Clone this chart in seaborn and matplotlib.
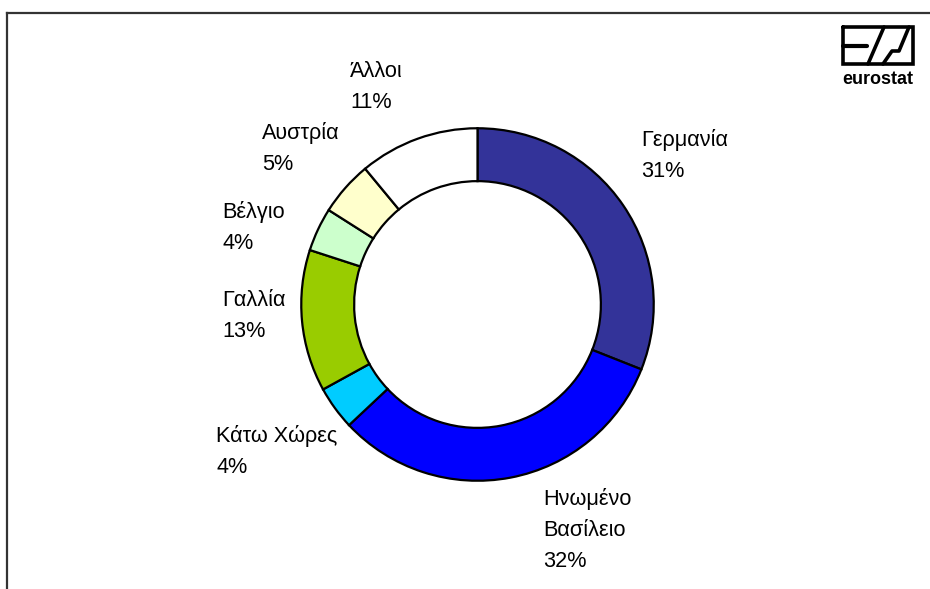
#!/usr/bin/env python3

import matplotlib
matplotlib.use("Agg")
import matplotlib.pyplot as plt
import seaborn as sns

# shares by country, clockwise from 12 o'clock
countries = ["Γερμανία", "Ηνωμένο\nΒασίλειο", "Κάτω Χώρες", "Γαλλία", "Βέλγιο", "Αυστρία", "Άλλοι"]
shares = [31, 32, 4, 13, 4, 5, 11]
colors = ["#333399", "#0000ff", "#00ccff", "#99cc00", "#ccffcc", "#ffffcc", "#ffffff"]

# where each label sits: left edge x, first baseline y (pixels, top-left origin)
label_pos = [(641, 146), (543, 505), (216, 442), (222, 306), (222, 218), (262, 139), (350, 77)]

W, H = 930, 589
CX, CY, R = 477.5, 304.5, 178

sns.set_theme(style="white")
plt.rcParams["font.family"] = ["Liberation Sans", "DejaVu Sans"]

fig = plt.figure(figsize=(W / 100, H / 100), dpi=100)
fig.patch.set_facecolor("white")

# overlay in pixel coordinates for frame, labels and logo
over = fig.add_axes([0, 0, 1, 1])
over.set_xlim(0, W)
over.set_ylim(H, 0)
over.axis("off")
over.patch.set_alpha(0)

# frame (top and left only)
over.plot([7, 7], [H, 13], color="#333333", lw=1.6, clip_on=False, solid_capstyle="projecting")
over.plot([7, W], [13, 13], color="#333333", lw=1.6, clip_on=False, solid_capstyle="projecting")

# donut
ax = fig.add_axes([(CX - R) / W, (H - CY - R) / H, 2 * R / W, 2 * R / H])
ax.pie(shares, colors=colors, startangle=90, counterclock=False, radius=1,
       wedgeprops=dict(width=0.30, edgecolor="black", linewidth=1.6))
ax.set_xlim(-1.01, 1.01)
ax.set_ylim(-1.01, 1.01)
ax.axis("off")

# labels
for name, share, (x, y) in zip(countries, shares, label_pos):
    lines = name.split("\n") + [f"{share}%"]
    for i, line in enumerate(lines):
        over.text(x, y + i * 31, line, ha="left", va="baseline", fontsize=15.6, color="black")

# eurostat logo (simplified)
bx0, bx1, by0, by1 = 843, 913, 27, 64
over.plot([bx0, bx1, bx1, bx0, bx0], [by0, by0, by1, by1, by0], color="black", lw=2.6,
          solid_joinstyle="miter")
over.plot([bx0, 867], [45.5, 45.5], color="black", lw=3.0)
over.plot([868, 884], [by1, by0], color="black", lw=2.6)
over.plot([883, 892, 899, 909], [by1, 51, 51, by0], color="black", lw=2.6)
over.text((bx0 + bx1) / 2, 83.5, "eurostat", ha="center", va="baseline", fontsize=13,
          fontweight="bold", color="black")

fig.savefig("out.png", dpi=100)
